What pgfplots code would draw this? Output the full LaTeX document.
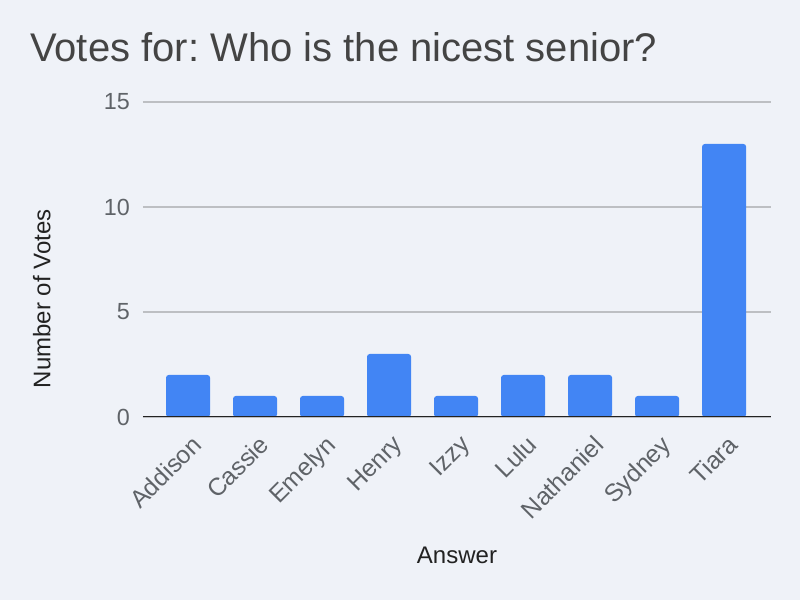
\documentclass[border=0pt]{standalone}
\usepackage{pgfplots}
\pgfplotsset{compat=1.18}
\usepackage{fontspec}
\setmainfont{Liberation Sans}
\frenchspacing
\definecolor{bg}{HTML}{EFF2F8}
\definecolor{barc}{HTML}{4285F4}
\definecolor{gridc}{HTML}{BDBFC3}
\definecolor{titlec}{HTML}{444444}
\definecolor{tickc}{HTML}{5F6368}
\definecolor{labc}{HTML}{222222}
\begin{document}
\begin{tikzpicture}
\fill[bg] (0pt,0pt) rectangle (600pt,450pt);
\useasboundingbox (0pt,0pt) rectangle (600pt,450pt);
\node[anchor=base west, inner sep=0pt, text=titlec, font=\fontsize{30}{34}\selectfont] at (22.5pt,403.9pt) {Votes for: Who is the nicest senior?};
\begin{axis}[
  at={(107.25pt,137.25pt)}, anchor=south west,
  scale only axis, width=471pt, height=236.25pt,
  xmin=-0.672, xmax=8.70, ymin=0, ymax=15,
  ytick={0,5,10,15},
  xtick=data,
  xticklabels={Addison,Cassie,Emelyn,Henry,Izzy,Lulu,Nathaniel,Sydney,Tiara},
  axis line style={draw=none},
  major tick length=0pt,
  ymajorgrids,
  grid style={color=gridc, line width=0.9pt},
  /pgf/number format/assume math mode=true,
  tick label style={font=\fontsize{17.5}{20}\selectfont, text=tickc},
  yticklabel style={anchor=east, inner sep=0pt, xshift=-9.75pt},
  xticklabel style={font=\fontsize{18.5}{21}\selectfont, xshift=2pt, yshift=-12.5pt, rotate=45, anchor=north east, inner sep=0pt},
  xlabel={Answer}, ylabel={Number of Votes},
  label style={font=\fontsize{18}{21}\selectfont, text=labc},
  xlabel style={at={(axis description cs:0.5,-0.438)}, anchor=center},
  ylabel style={at={(axis description cs:-0.161,0.375)}, anchor=center},
  ybar, bar width=33pt,
]
\addplot[fill=barc, draw=none, rounded corners=2pt] coordinates {
  (0,2) (1,1) (2,1) (3,3) (4,1) (5,2) (6,2) (7,1) (8,13)
};
\draw[color=labc, line width=1.1pt] (axis cs:-0.672,0) -- (axis cs:8.70,0);
\end{axis}
\end{tikzpicture}
\end{document}
